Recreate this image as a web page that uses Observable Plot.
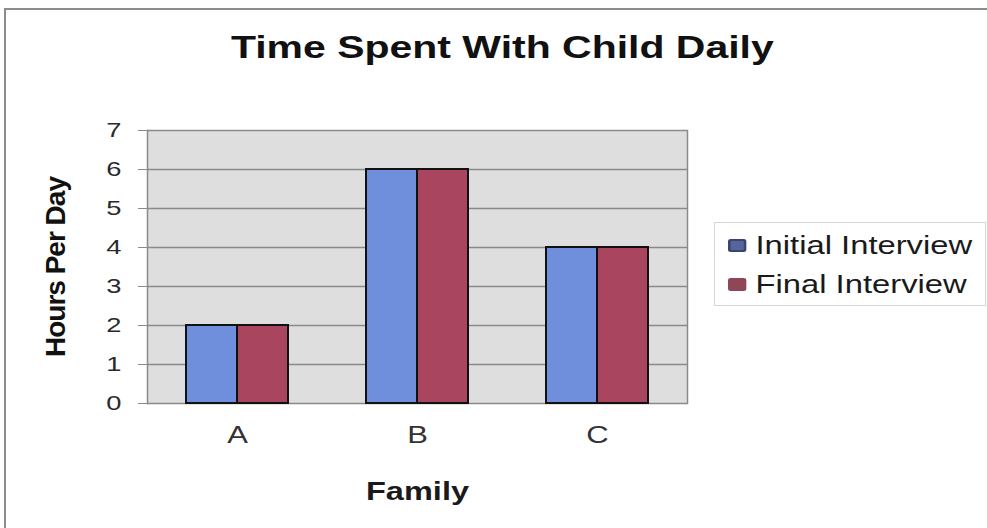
<!DOCTYPE html>
<html>
<head>
<meta charset="utf-8">
<script src="https://cdn.jsdelivr.net/npm/d3@7"></script>
<script src="https://cdn.jsdelivr.net/npm/@observablehq/plot@0.6"></script>
<style>
  html, body { margin: 0; padding: 0; background: #fff; }
  #wrap { position: relative; width: 987px; height: 528px; overflow: hidden; font-family: "Liberation Sans", Arial, sans-serif; }
  #frame { position: absolute; left: 4px; top: 8px; width: 1000px; height: 600px; border-top: 2px solid #8c8c8c; border-left: 2px solid #8c8c8c; }
  #chart { position: absolute; left: 0; top: 0; }
  #title { position: absolute; left: 0; top: 31px; width: 1005px; text-align: center; font-weight: bold; font-size: 32px; line-height: 32px; color: #111; transform: scaleX(1.28); transform-origin: 503px 0; }
  #legend { position: absolute; left: 714px; top: 222px; width: 272px; height: 84px; border: 1px solid #d6d6d6; box-sizing: border-box; }
  .item { position: absolute; left: 13px; display: flex; align-items: center; font-size: 25px; color: #1a1a1a; white-space: nowrap; transform: scaleX(1.31); transform-origin: 0 50%; }
  .sw { width: 14px; height: 13px; margin-right: 7px; border-radius: 2px; box-sizing: border-box; }
  svg rect { shape-rendering: crispEdges; }
  svg g[aria-label="y-axis tick label"] text { font-size: 21px !important; fill: #2a2a2a; }
  svg g[aria-label="fx-axis tick label"] text { font-size: 23px !important; fill: #333; }
  svg g[aria-label="y-axis label"] text { font-size: 28px !important; font-weight: bold; letter-spacing: -1px; fill: #111; }
  svg g[aria-label="fx-axis label"] text { font-size: 25px !important; font-weight: bold; fill: #1a1a1a; }
</style>
</head>
<body>
<div id="wrap">
  <div id="frame"></div>
  <div id="chart"></div>
  <div id="title"></div>
  <div id="legend"></div>
</div>
<script>
const titleText = "Time Spent With Child Daily";
const families = ["A", "B", "C"];
const seriesNames = ["Initial Interview", "Final Interview"];
const initialValues = [2, 6, 4];
const finalValues = [2, 6, 4];
const yTicks = [0, 1, 2, 3, 4, 5, 6, 7];
const seriesColors = ["#6f8fdc", "#a9455f"];
const legendSwatches = ["#56659c", "#8f4657"];

const rows = [];
families.forEach((f, i) => {
  rows.push({family: f, series: seriesNames[0], value: initialValues[i]});
  rows.push({family: f, series: seriesNames[1], value: finalValues[i]});
});

const chart = Plot.plot({
  width: 987,
  height: 528,
  marginLeft: 146,
  marginRight: 299,
  marginTop: 130,
  marginBottom: 125,
  style: {fontFamily: "'Liberation Sans', Arial, sans-serif", background: "transparent"},
  fx: {domain: families, padding: 0},
  x: {domain: seriesNames, paddingInner: 0, paddingOuter: 0.74, axis: null},
  y: {domain: [0, 7]},
  color: {domain: seriesNames, range: seriesColors},
  marks: [
    Plot.frame({fill: "#dedede", stroke: null}),
    Plot.gridY(yTicks, {stroke: "#8a8a8a", strokeOpacity: 1, strokeWidth: 1.3}),
    Plot.frame({anchor: "left", stroke: "#8a8a8a", strokeWidth: 1.5, facetAnchor: "left"}),
    Plot.frame({anchor: "right", stroke: "#8a8a8a", strokeWidth: 1.5, facetAnchor: "right"}),
    Plot.barY(rows, {fx: "family", x: "series", y: "value", fill: "series", stroke: "#111", strokeWidth: 1.6}),
    Plot.axisY(yTicks, {tickSize: 9, tickPadding: 17, stroke: "#8a8a8a", fontSize: 21, label: "Hours Per Day", labelAnchor: "center", labelArrow: "none", labelOffset: 102}),
    Plot.axisFx({anchor: "bottom", tickSize: 0, tickPadding: 23, fontSize: 23, label: "Family", labelAnchor: "center", labelArrow: "none", labelOffset: 96})
  ]
});
document.getElementById("chart").appendChild(chart);
document.getElementById("title").textContent = titleText;

// the reference image is horizontally stretched; widen the horizontal texts
const stretch = [
  ['g[aria-label="y-axis tick label"] text', 1.3],
  ['g[aria-label="fx-axis tick label"] text', 1.35],
  ['g[aria-label="fx-axis label"] text', 1.3]
];
stretch.forEach(([sel, k]) => {
  chart.querySelectorAll(sel).forEach(t => {
    const L = t.getComputedTextLength();
    t.setAttribute("textLength", (L * k).toFixed(1));
    t.setAttribute("lengthAdjust", "spacingAndGlyphs");
  });
});

const legend = document.getElementById("legend");
seriesNames.forEach((s, i) => {
  const it = document.createElement("div");
  it.className = "item";
  it.style.top = (i === 0 ? 8 : 47) + "px";
  const sw = document.createElement("div");
  sw.className = "sw";
  sw.style.background = legendSwatches[i];
  if (i === 0) sw.style.border = "2px solid #3a4470";
  const tx = document.createElement("span");
  tx.textContent = s;
  it.appendChild(sw);
  it.appendChild(tx);
  legend.appendChild(it);
});
</script>
</body>
</html>
